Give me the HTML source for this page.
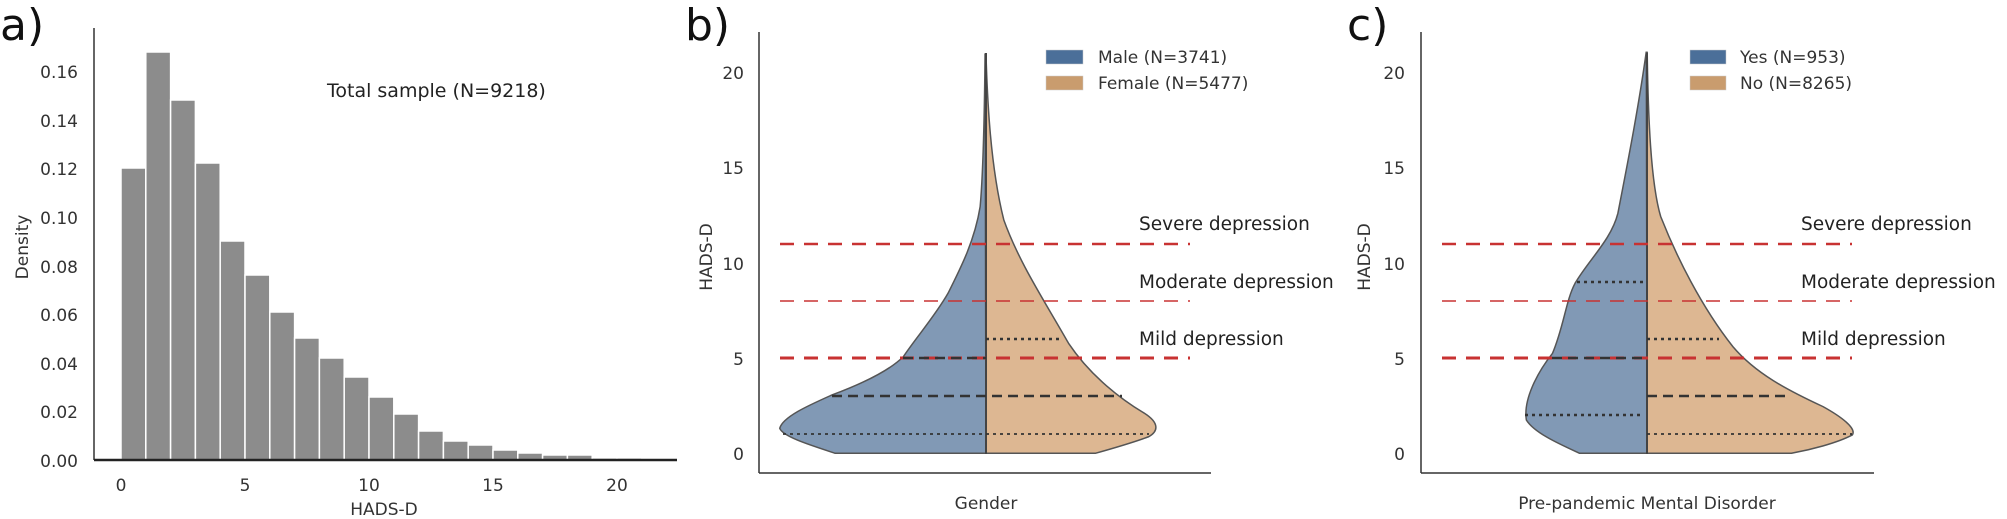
<!DOCTYPE html>
<html><head><meta charset="utf-8"><style>
html,body{margin:0;padding:0;background:#fff;}
svg{display:block;font-family:"DejaVu Sans","Liberation Sans",sans-serif;}
</style></head><body>
<svg width="2007" height="519" viewBox="0 0 2007 519" xmlns="http://www.w3.org/2000/svg">
<rect width="2007" height="519" fill="#fff"/>
<!-- Panel a -->
<text x="0" y="40" font-size="44" fill="#111">a)</text>
<g fill="#8c8c8c" stroke="#fff" stroke-width="1.5">
<rect x="121" y="168" width="24.8" height="292"/>
<rect x="145.8" y="52" width="24.8" height="408"/>
<rect x="170.6" y="100" width="24.8" height="360"/>
<rect x="195.4" y="163" width="24.8" height="297"/>
<rect x="220.2" y="241" width="24.8" height="219"/>
<rect x="245" y="275" width="24.8" height="185"/>
<rect x="269.8" y="312" width="24.8" height="148"/>
<rect x="294.6" y="338" width="24.8" height="122"/>
<rect x="319.4" y="358" width="24.8" height="102"/>
<rect x="344.2" y="377" width="24.8" height="83"/>
<rect x="369" y="397" width="24.8" height="63"/>
<rect x="393.8" y="414" width="24.8" height="46"/>
<rect x="418.6" y="431" width="24.8" height="29"/>
<rect x="443.4" y="441" width="24.8" height="19"/>
<rect x="468.2" y="445" width="24.8" height="15"/>
<rect x="493" y="450" width="24.8" height="10"/>
<rect x="517.8" y="453" width="24.8" height="7"/>
<rect x="542.6" y="455" width="24.8" height="5"/>
<rect x="567.4" y="455" width="24.8" height="5"/>
<rect x="592.2" y="458" width="24.8" height="2"/>
<rect x="617" y="458" width="24.8" height="2"/>
</g>
<line x1="94" y1="28" x2="94" y2="460" stroke="#333" stroke-width="1.5"/>
<line x1="94" y1="460" x2="677" y2="460" stroke="#222" stroke-width="2.5"/>
<g font-size="17" fill="#333" text-anchor="end">
<text x="78" y="467">0.00</text><text x="78" y="418">0.02</text><text x="78" y="370">0.04</text>
<text x="78" y="321">0.06</text><text x="78" y="273">0.08</text><text x="78" y="224">0.10</text>
<text x="78" y="175">0.12</text><text x="78" y="127">0.14</text><text x="78" y="78">0.16</text>
</g>
<g font-size="17" fill="#333" text-anchor="middle">
<text x="121" y="491">0</text><text x="245" y="491">5</text><text x="369" y="491">10</text>
<text x="493" y="491">15</text><text x="617" y="491">20</text>
<text x="384" y="515">HADS-D</text>
</g>
<text transform="translate(28,247) rotate(-90)" font-size="17" fill="#333" text-anchor="middle">Density</text>
<text x="327" y="97" font-size="19" fill="#222">Total sample (N=9218)</text>

<!-- Panel b -->
<text x="685" y="40" font-size="44" fill="#111">b)</text>
<line x1="759" y1="32" x2="759" y2="473" stroke="#333" stroke-width="1.5"/>
<line x1="759" y1="473" x2="1211" y2="473" stroke="#333" stroke-width="1.5"/>
<g font-size="17" fill="#333" text-anchor="end">
<text x="744" y="460">0</text><text x="744" y="365">5</text><text x="744" y="270">10</text>
<text x="744" y="174">15</text><text x="744" y="79">20</text>
</g>
<text transform="translate(712,257) rotate(-90)" font-size="17" fill="#333" text-anchor="middle">HADS-D</text>
<text x="986" y="509" font-size="17" fill="#333" text-anchor="middle">Gender</text>
<g transform="translate(640,0) scale(0.4464,0.3333)" stroke="#555" stroke-width="1.5">
<path vector-effect="non-scaling-stroke" fill="#8199b5" d="M775,1360 L437,1360 C380,1335 320,1310 313,1285 C320,1250 380,1215 430,1185 C500,1150 560,1110 590,1070 C620,1010 660,950 690,880 C720,800 750,720 762,620 C770,500 772,300 773,160 Z"/>
<path vector-effect="non-scaling-stroke" fill="#ddb792" d="M775,160 C778,300 785,500 815,660 C850,790 905,900 960,1030 C1010,1130 1080,1200 1130,1240 C1165,1270 1160,1295 1140,1310 C1100,1330 1060,1345 1020,1360 L775,1360 Z"/>
</g>
<line x1="986" y1="53" x2="986" y2="454" stroke="#444" stroke-width="2"/>
<g stroke="#c83232" stroke-dasharray="14,10">
<line x1="780" y1="244" x2="1190" y2="244" stroke-width="2.5"/>
<line x1="780" y1="301" x2="1190" y2="301" stroke-width="1.5"/>
<line x1="780" y1="358" x2="1190" y2="358" stroke-width="3"/>
</g>
<g stroke="#333" stroke-width="2.5">
<line x1="832" y1="396" x2="1122" y2="396" stroke-dasharray="10,6"/>
<line x1="903" y1="358" x2="986" y2="358" stroke-dasharray="10,6"/>
<line x1="783" y1="434" x2="1149" y2="434" stroke-dasharray="3,4" stroke-width="1.8"/>
<line x1="986" y1="339" x2="1060" y2="339" stroke-dasharray="3,4"/>
</g>
<rect x="1046" y="50" width="37" height="14" fill="#4b6f99" stroke="#ccc" stroke-width="0.5"/>
<rect x="1046" y="76" width="37" height="14" fill="#c99c6e" stroke="#ccc" stroke-width="0.5"/>
<g font-size="17" fill="#333">
<text x="1098" y="63">Male (N=3741)</text><text x="1098" y="89">Female (N=5477)</text>
</g>
<g font-size="18.5" fill="#222">
<text x="1139" y="230">Severe depression</text>
<text x="1139" y="288">Moderate depression</text>
<text x="1139" y="345">Mild depression</text>
</g>

<!-- Panel c -->
<text x="1347" y="40" font-size="44" fill="#111">c)</text>
<line x1="1421" y1="32" x2="1421" y2="473" stroke="#333" stroke-width="1.5"/>
<line x1="1421" y1="473" x2="1874" y2="473" stroke="#333" stroke-width="1.5"/>
<g font-size="17" fill="#333" text-anchor="end">
<text x="1405" y="460">0</text><text x="1405" y="365">5</text><text x="1405" y="270">10</text>
<text x="1405" y="174">15</text><text x="1405" y="79">20</text>
</g>
<text transform="translate(1370,257) rotate(-90)" font-size="17" fill="#333" text-anchor="middle">HADS-D</text>
<text x="1647" y="509" font-size="17" fill="#333" text-anchor="middle">Pre-pandemic Mental Disorder</text>
<g transform="translate(1300,0) scale(0.4509,0.3333)" stroke="#555" stroke-width="1.5">
<path vector-effect="non-scaling-stroke" fill="#8199b5" d="M770,1360 L620,1360 C580,1335 520,1300 502,1260 C495,1200 525,1120 560,1060 C585,980 590,900 610,850 C640,780 690,720 705,640 C725,500 750,330 768,155 Z"/>
<path vector-effect="non-scaling-stroke" fill="#ddb792" d="M770,155 C772,350 778,550 800,650 C835,770 890,920 960,1040 C1010,1120 1080,1170 1160,1220 C1200,1250 1235,1285 1225,1305 C1190,1330 1130,1350 1090,1360 L770,1360 Z"/>
</g>
<line x1="1647" y1="53" x2="1647" y2="454" stroke="#444" stroke-width="2"/>
<g stroke="#c83232" stroke-dasharray="14,10">
<line x1="1442" y1="244" x2="1852" y2="244" stroke-width="2.5"/>
<line x1="1442" y1="301" x2="1852" y2="301" stroke-width="1.5"/>
<line x1="1442" y1="358" x2="1852" y2="358" stroke-width="3"/>
</g>
<g stroke="#333" stroke-width="2.5">
<line x1="1525" y1="415" x2="1643" y2="415" stroke-dasharray="3,4"/>
<line x1="1552" y1="358" x2="1647" y2="358" stroke-dasharray="10,6"/>
<line x1="1577" y1="282" x2="1647" y2="282" stroke-dasharray="3,4"/>
<line x1="1647" y1="396" x2="1789" y2="396" stroke-dasharray="10,6"/>
<line x1="1647" y1="339" x2="1719" y2="339" stroke-dasharray="3,4"/>
<line x1="1647" y1="434" x2="1852" y2="434" stroke-dasharray="3,4" stroke-width="1.8"/>
</g>
<rect x="1690" y="50" width="36" height="14" fill="#4b6f99" stroke="#ccc" stroke-width="0.5"/>
<rect x="1690" y="76" width="36" height="14" fill="#c99c6e" stroke="#ccc" stroke-width="0.5"/>
<g font-size="17" fill="#333">
<text x="1740" y="63">Yes (N=953)</text><text x="1740" y="89">No (N=8265)</text>
</g>
<g font-size="18.5" fill="#222">
<text x="1801" y="230">Severe depression</text>
<text x="1801" y="288">Moderate depression</text>
<text x="1801" y="345">Mild depression</text>
</g>
</svg>
</body></html>
